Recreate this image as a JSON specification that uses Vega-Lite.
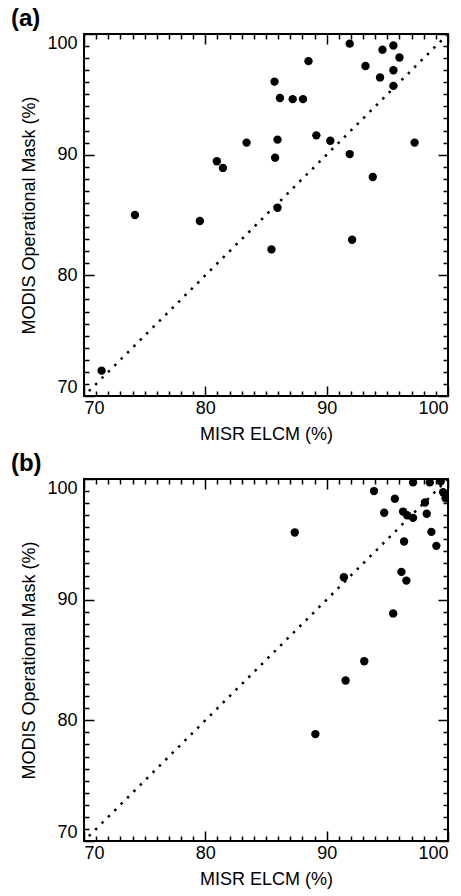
{
  "$schema": "https://vega.github.io/schema/vega-lite/v6.json",
  "background": "white",
  "padding": {"left": 9, "top": 5, "right": 5, "bottom": 5},
  "spacing": 6,
  "datasets": {
    "a": [
      {"misr": 91.9, "modis": 99.2}, {"misr": 94.6, "modis": 98.7}, {"misr": 95.5, "modis": 99.05},
      {"misr": 96.0, "modis": 98.05}, {"misr": 88.5, "modis": 97.75}, {"misr": 93.2, "modis": 97.35},
      {"misr": 95.5, "modis": 97.0}, {"misr": 94.4, "modis": 96.4}, {"misr": 95.5, "modis": 95.7},
      {"misr": 85.7, "modis": 96.05}, {"misr": 86.15, "modis": 94.7}, {"misr": 87.2, "modis": 94.6},
      {"misr": 88.05, "modis": 94.6}, {"misr": 89.15, "modis": 91.6}, {"misr": 90.3, "modis": 91.15},
      {"misr": 85.95, "modis": 91.25}, {"misr": 83.4, "modis": 91.0}, {"misr": 97.25, "modis": 91.0},
      {"misr": 91.9, "modis": 90.05}, {"misr": 85.75, "modis": 89.75}, {"misr": 80.95, "modis": 89.45},
      {"misr": 81.45, "modis": 88.9}, {"misr": 93.8, "modis": 88.15}, {"misr": 74.2, "modis": 85.0},
      {"misr": 79.55, "modis": 84.5}, {"misr": 85.95, "modis": 85.6}, {"misr": 92.1, "modis": 82.95},
      {"misr": 85.45, "modis": 82.15}, {"misr": 71.45, "modis": 72.1}
    ],
    "b": [
      {"misr": 93.9, "modis": 99.0}, {"misr": 97.12, "modis": 99.72}, {"misr": 98.5, "modis": 99.72},
      {"misr": 99.4, "modis": 99.8}, {"misr": 99.6, "modis": 98.9}, {"misr": 99.8, "modis": 98.4},
      {"misr": 95.62, "modis": 98.37}, {"misr": 98.1, "modis": 98.05}, {"misr": 94.74, "modis": 97.2},
      {"misr": 96.3, "modis": 97.3}, {"misr": 96.63, "modis": 97.0}, {"misr": 97.12, "modis": 96.78},
      {"misr": 98.25, "modis": 97.12}, {"misr": 98.63, "modis": 95.62}, {"misr": 96.38, "modis": 94.82},
      {"misr": 99.04, "modis": 94.46}, {"misr": 96.16, "modis": 92.3}, {"misr": 96.57, "modis": 91.58},
      {"misr": 87.37, "modis": 95.57}, {"misr": 91.42, "modis": 91.86}, {"misr": 95.48, "modis": 88.86},
      {"misr": 93.1, "modis": 84.9}, {"misr": 91.56, "modis": 83.3}, {"misr": 89.07, "modis": 78.86}
    ],
    "diag": [{"x": 70.4, "y": 70.4, "x2": 100, "y2": 100}]
  },
  "config": {
    "font": "Liberation Sans",
    "view": {"stroke": "black", "strokeWidth": 2},
    "axis": {
      "domain": false, "grid": false, "tickColor": "black", "tickWidth": 1.5,
      "labelColor": "black", "titleColor": "black", "labelFontSize": 18, "titleFontSize": 18,
      "titleFontWeight": "normal", "labelOverlap": false, "labelFont": "Liberation Sans", "titleFont": "Liberation Sans"
    },
    "title": {"fontSize": 24, "fontWeight": "bold", "anchor": "start", "color": "black", "font": "Liberation Sans"}
  },
  "vconcat": [
    {
      "title": {"text": "(a)", "dx": -10, "offset": 2},
      "width": 364, "height": 362,
      "resolve": {"axis": {"x": "independent", "y": "independent"}},
      "layer": [
        {
          "data": {"name": "diag"},
          "mark": {"type": "rule", "strokeDash": [2.5, 6.5], "strokeWidth": 2.5, "color": "black"},
          "encoding": {
            "x": {"field": "x", "type": "quantitative", "scale": {"domain": [70, 100], "nice": false, "zero": false},
              "axis": {"orient": "bottom", "title": "MISR ELCM (%)", "values": [70, 80, 90, 100], "tickSize": -10,
                "labelPadding": 13, "titlePadding": 8}},
            "y": {"field": "y", "type": "quantitative", "scale": {"domain": [70, 100], "nice": false, "zero": false},
              "axis": {"orient": "left", "title": "MODIS Operational Mask (%)", "values": [70, 80, 90, 100], "tickSize": -10,
                "labelFlush": true, "labelPadding": 17, "titlePadding": 8}},
            "x2": {"field": "x2"},
            "y2": {"field": "y2"}
          }
        },
        {
          "data": {"name": "a"},
          "mark": {"type": "circle", "size": 70, "opacity": 1, "color": "black", "clip": true},
          "encoding": {
            "x": {"field": "misr", "type": "quantitative",
              "axis": {"orient": "top", "title": null, "labels": false, "values": [70, 80, 90, 100], "tickSize": -10}},
            "y": {"field": "modis", "type": "quantitative",
              "axis": {"orient": "right", "title": null, "labels": false, "values": [70, 80, 90, 100], "tickSize": -10}}
          }
        },
        {
          "data": {"name": "diag"},
          "mark": {"type": "rule", "opacity": 0},
          "encoding": {
            "x": {"field": "x", "type": "quantitative",
              "axis": {"orient": "bottom", "title": null, "labels": false, "tickSize": -5,
                "values": [71,72,73,74,75,76,77,78,79,81,82,83,84,85,86,87,88,89,91,92,93,94,95,96,97,98,99]}},
            "y": {"field": "y", "type": "quantitative",
              "axis": {"orient": "left", "title": null, "labels": false, "tickSize": -5,
                "values": [71,72,73,74,75,76,77,78,79,81,82,83,84,85,86,87,88,89,91,92,93,94,95,96,97,98,99]}},
            "x2": {"field": "x2"},
            "y2": {"field": "y2"}
          }
        },
        {
          "data": {"name": "diag"},
          "mark": {"type": "rule", "opacity": 0},
          "encoding": {
            "x": {"field": "x", "type": "quantitative",
              "axis": {"orient": "top", "title": null, "labels": false, "tickSize": -5,
                "values": [71,72,73,74,75,76,77,78,79,81,82,83,84,85,86,87,88,89,91,92,93,94,95,96,97,98,99]}},
            "y": {"field": "y", "type": "quantitative",
              "axis": {"orient": "right", "title": null, "labels": false, "tickSize": -5,
                "values": [71,72,73,74,75,76,77,78,79,81,82,83,84,85,86,87,88,89,91,92,93,94,95,96,97,98,99]}},
            "x2": {"field": "x2"},
            "y2": {"field": "y2"}
          }
        }
      ]
    },
    {
      "title": {"text": "(b)", "dx": -10, "offset": 2},
      "width": 364, "height": 362,
      "resolve": {"axis": {"x": "independent", "y": "independent"}},
      "layer": [
        {
          "data": {"name": "diag"},
          "mark": {"type": "rule", "strokeDash": [2.5, 6.5], "strokeWidth": 2.5, "color": "black"},
          "encoding": {
            "x": {"field": "x", "type": "quantitative", "scale": {"domain": [70, 100], "nice": false, "zero": false},
              "axis": {"orient": "bottom", "title": "MISR ELCM (%)", "values": [70, 80, 90, 100], "tickSize": -10,
                "labelPadding": 13, "titlePadding": 8}},
            "y": {"field": "y", "type": "quantitative", "scale": {"domain": [70, 100], "nice": false, "zero": false},
              "axis": {"orient": "left", "title": "MODIS Operational Mask (%)", "values": [70, 80, 90, 100], "tickSize": -10,
                "labelFlush": true, "labelPadding": 17, "titlePadding": 8}},
            "x2": {"field": "x2"},
            "y2": {"field": "y2"}
          }
        },
        {
          "data": {"name": "b"},
          "mark": {"type": "circle", "size": 70, "opacity": 1, "color": "black", "clip": true},
          "encoding": {
            "x": {"field": "misr", "type": "quantitative",
              "axis": {"orient": "top", "title": null, "labels": false, "values": [70, 80, 90, 100], "tickSize": -10}},
            "y": {"field": "modis", "type": "quantitative",
              "axis": {"orient": "right", "title": null, "labels": false, "values": [70, 80, 90, 100], "tickSize": -10}}
          }
        },
        {
          "data": {"name": "diag"},
          "mark": {"type": "rule", "opacity": 0},
          "encoding": {
            "x": {"field": "x", "type": "quantitative",
              "axis": {"orient": "bottom", "title": null, "labels": false, "tickSize": -5,
                "values": [71,72,73,74,75,76,77,78,79,81,82,83,84,85,86,87,88,89,91,92,93,94,95,96,97,98,99]}},
            "y": {"field": "y", "type": "quantitative",
              "axis": {"orient": "left", "title": null, "labels": false, "tickSize": -5,
                "values": [71,72,73,74,75,76,77,78,79,81,82,83,84,85,86,87,88,89,91,92,93,94,95,96,97,98,99]}},
            "x2": {"field": "x2"},
            "y2": {"field": "y2"}
          }
        },
        {
          "data": {"name": "diag"},
          "mark": {"type": "rule", "opacity": 0},
          "encoding": {
            "x": {"field": "x", "type": "quantitative",
              "axis": {"orient": "top", "title": null, "labels": false, "tickSize": -5,
                "values": [71,72,73,74,75,76,77,78,79,81,82,83,84,85,86,87,88,89,91,92,93,94,95,96,97,98,99]}},
            "y": {"field": "y", "type": "quantitative",
              "axis": {"orient": "right", "title": null, "labels": false, "tickSize": -5,
                "values": [71,72,73,74,75,76,77,78,79,81,82,83,84,85,86,87,88,89,91,92,93,94,95,96,97,98,99]}},
            "x2": {"field": "x2"},
            "y2": {"field": "y2"}
          }
        }
      ]
    }
  ]
}
